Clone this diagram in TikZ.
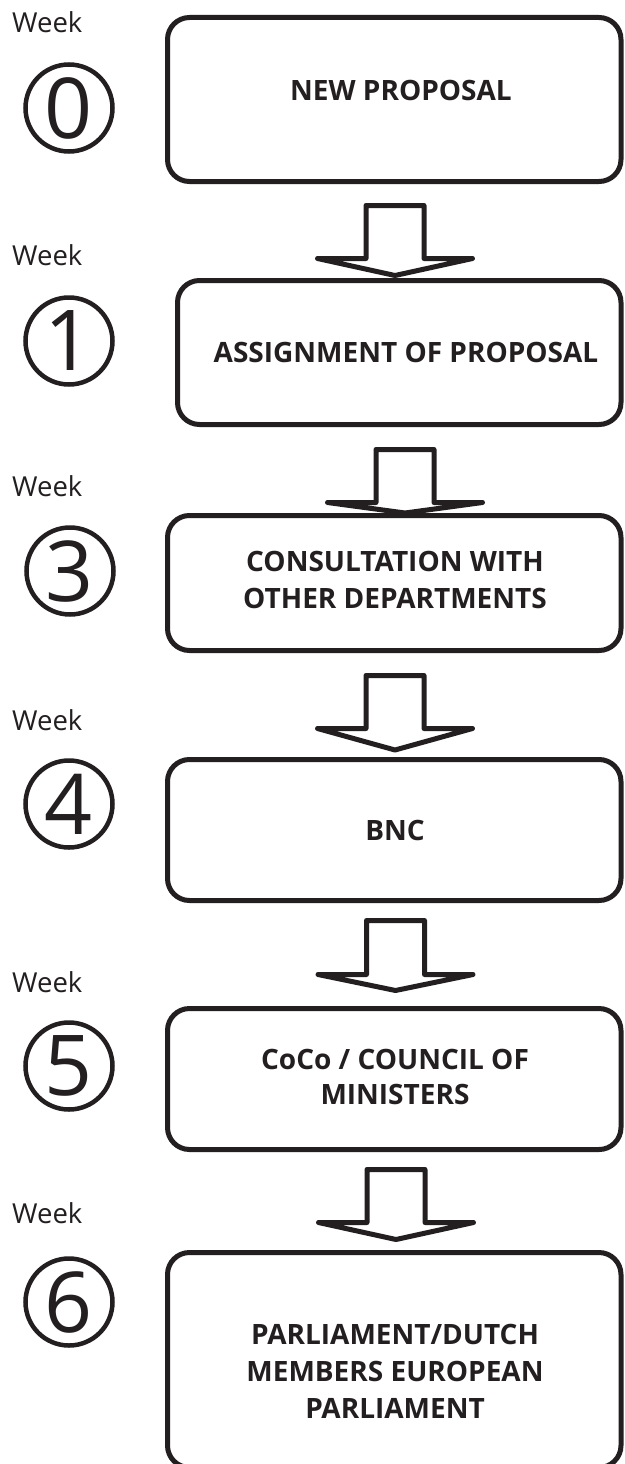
\documentclass[tikz,border=0pt]{standalone}
\usepackage{fontspec}
\setmainfont{Open Sans}
\usetikzlibrary{calc}
\definecolor{ink}{RGB}{35,31,32}
\newcommand\blockarr[5]{%
  \coordinate (#1) at (#2,#3);
  \draw[blockarrow] (#2-29,#3) -- (#2+29,#3) -- (#2+29,#4) -- (#2+77.5,#4)
     -- (#2,#5) -- (#2-77.5,#4) -- (#2-29,#4) -- cycle;}
\begin{document}
\begin{tikzpicture}[x=1pt,y=-1pt,
  stepbox/.style={draw=ink, line width=5pt, rounded corners=22pt, inner sep=0pt},
  lbl/.style={text=ink, font=\bfseries\fontsize{28}{37}\selectfont, align=center, inner sep=0pt},
  wk/.style={text=ink, font=\fontsize{27.5}{30}\selectfont, inner sep=0pt},
  num/.style={circle, draw=ink, line width=4.5pt, minimum size=87pt, inner sep=0pt, text=ink,
     font=\fontsize{84}{90}\selectfont},
  blockarrow/.style={draw=ink, line width=5pt, line join=round, fill=white}]
\useasboundingbox (0,0) rectangle (624,1464);
\fill[white] (0,0) rectangle (624,1464);

% block arrows (drawn first so box outlines lie on top of the tips)
\blockarr{a1}{395}{205.5}{258.5}{275.5}
\blockarr{a2}{405}{449.5}{502.5}{513}
\blockarr{a3}{395}{675.5}{728.5}{750}
\blockarr{a4}{395.5}{920.5}{974.5}{990.5}
\blockarr{a5}{396}{1169.5}{1222.5}{1239.5}

% boxes
\node[stepbox, minimum width=453.5pt, minimum height=164pt] (b1) at (394.25,99.5) {};
\node[stepbox, minimum width=443.5pt, minimum height=144pt] (b2) at (399.25,352.5) {};
\node[stepbox, minimum width=453.5pt, minimum height=135pt] (b3) at (394.25,583) {};
\node[stepbox, minimum width=453.5pt, minimum height=141pt] (b4) at (394.25,830) {};
\node[stepbox, minimum width=453.5pt, minimum height=141pt] (b5) at (394.25,1079) {};
\node[stepbox, minimum width=453.5pt, minimum height=215pt] (b6) at (394.25,1360) {};

% box texts (anchor=base is the baseline of the last line)
\node[lbl, anchor=base] (t1) at (401,100) {NEW PROPOSAL};
\node[lbl, anchor=base] (t2) at (406,362) {ASSIGNMENT OF PROPOSAL};
\node[lbl, anchor=base] (t3) at (395,608) {CONSULTATION WITH\\OTHER DEPARTMENTS};
\node[lbl, anchor=base] (t4) at (395,840) {BNC};
\node[lbl, anchor=base, font=\bfseries\fontsize{28}{35}\selectfont] (t5) at (395,1104) {CoCo / COUNCIL OF\\MINISTERS};
\node[lbl, anchor=base] (t6) at (395,1418) {PARLIAMENT/DUTCH\\MEMBERS EUROPEAN\\PARLIAMENT};

% week labels
\node[wk, anchor=base west] (w0) at (12,33) {Week};
\node[wk, anchor=base west] (w1) at (12,265) {Week};
\node[wk, anchor=base west] (w3) at (12,496) {Week};
\node[wk, anchor=base west] (w4) at (12,730) {Week};
\node[wk, anchor=base west] (w5) at (12,992) {Week};
\node[wk, anchor=base west] (w6) at (12,1223) {Week};

% circled numbers
\node[num] (c0) at (69,108) {0};
\node[num] (c1) at (69,341) {1};
\node[num] (c3) at (70,571) {3};
\node[num] (c4) at (69,804) {4};
\node[num] (c5) at (69,1066) {5};
\node[num] (c6) at (69,1302) {6};
\end{tikzpicture}
\end{document}
